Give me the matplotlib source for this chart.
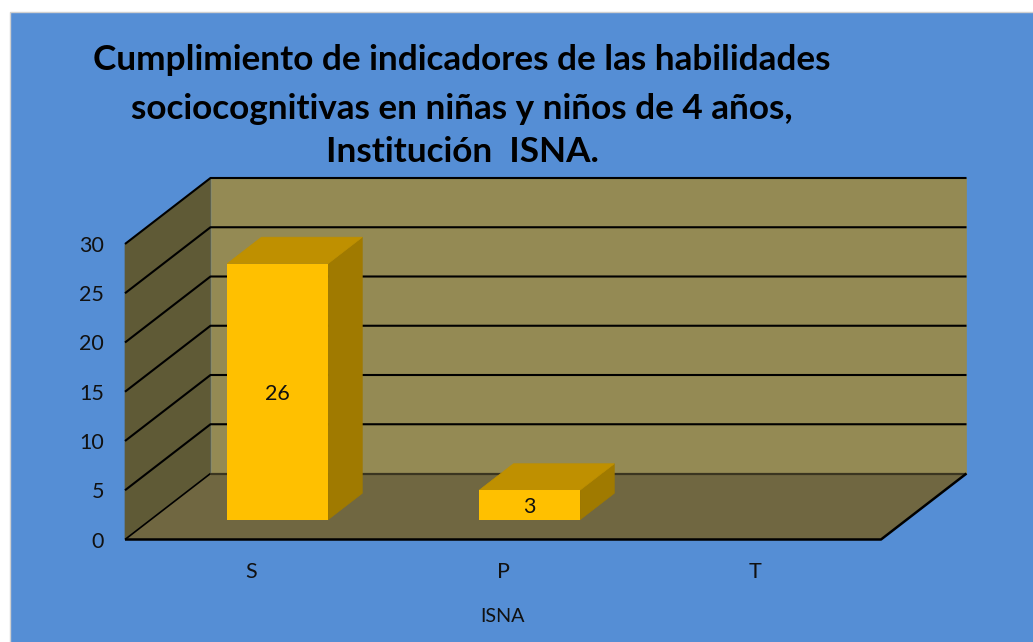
import matplotlib
matplotlib.use("Agg")
import matplotlib.pyplot as plt
import numpy as np
from matplotlib.patches import Polygon, Rectangle
from matplotlib.transforms import Affine2D, IdentityTransform

categories = ["S", "P", "T"]
values = [26, 3, 0]
value_labels = ["26", "3", ""]
y_ticks = [0, 5, 10, 15, 20, 25, 30]
title_lines = ["Cumplimiento de indicadores de las habilidades",
               "sociocognitivas en niñas y niños de 4 años,",
               "Institución  ISNA."]
x_title = "ISNA"

W, H = 1033, 642
plt.rcParams["font.family"] = ["Lato", "DejaVu Sans"]
fig = plt.figure(figsize=(W / 100, H / 100), dpi=100, facecolor="white")

def fx(p): return p / W
def fy(p): return 1 - p / H

fig.add_artist(Rectangle((fx(10), -0.01), 1 - fx(10) + 0.01, fy(12.5) + 0.01, transform=fig.transFigure,
                         facecolor="#558ED5", edgecolor="#D0D0D0", linewidth=1, zorder=-1))

left, right, bottom, top = 125, 881, 539.5, 244
ax = fig.add_axes([fx(left), fy(bottom), (right - left) / W, (bottom - top) / H])
ax.set_xlim(-0.5, 2.5)
ax.set_ylim(0, 30)
ax.patch.set_visible(False)
for s in ax.spines.values():
    s.set_visible(False)

DEPTH = np.array([85.5, 66.0])
BAR_START = 0.30
BAR_DEPTH = 0.40
BAR_WIDTH = 0.40
BAR_SHIFT = 0.004

def P(x, v, d=0.0):
    return ax.transData.transform((x, v)) + d * DEPTH

def face(pts, color, z):
    ax.add_patch(Polygon(pts, closed=True, transform=IdentityTransform(), facecolor=color,
                         edgecolor=color, linewidth=0.5, zorder=z, clip_on=False))

def seg(pts, color="black", lw=1.5, z=2):
    a = np.array(pts)
    ax.plot(a[:, 0], a[:, 1], transform=IdentityTransform(), color=color, lw=lw, zorder=z,
            clip_on=False, solid_capstyle="butt")

x0, x1 = ax.get_xlim()
ymax = y_ticks[-1]
face([P(x0, 0, 1), P(x1, 0, 1), P(x1, ymax, 1), P(x0, ymax, 1)], "#948A54", 1)
face([P(x0, 0), P(x0, 0, 1), P(x0, ymax, 1), P(x0, ymax)], "#5F5A36", 1)
face([P(x0, 0), P(x1, 0), P(x1, 0, 1), P(x0, 0, 1)], "#706741", 1)

for t in y_ticks:
    if t == 0:
        seg([P(x0, t, 1), P(x1, t, 1)], "#3A3520", 1.6)
        seg([P(x0, t), P(x0, t, 1)], "black", 1.2)
    else:
        seg([P(x0, t), P(x0, t, 1), P(x1, t, 1)], "black", 1.5)
seg([P(x0, 0), P(x1, 0), P(x1, 0, 1)], "black", 1.8)

off = Affine2D().translate(*(BAR_START * DEPTH))
for i, v in enumerate(values):
    if v <= 0:
        continue
    cx = i + BAR_SHIFT
    hw = BAR_WIDTH / 2
    a, b = BAR_START, BAR_START + BAR_DEPTH
    face([P(cx + hw, 0, a), P(cx + hw, 0, b), P(cx + hw, v, b), P(cx + hw, v, a)], "#A07A00", 3)
    face([P(cx - hw, v, a), P(cx + hw, v, a), P(cx + hw, v, b), P(cx - hw, v, b)], "#BF9000", 3)
    ax.bar(cx, v, width=BAR_WIDTH, color="#FFC000", zorder=4, clip_on=False,
           transform=ax.transData + off)
    c = P(cx, v / 2, a)
    ax.text(c[0], c[1] - 2, value_labels[i], transform=IdentityTransform(), ha="center", va="center",
            fontsize=15.5, color="#111111", zorder=5)

ax.set_xticks(range(len(categories)), categories)
ax.set_yticks(y_ticks)
ax.tick_params(axis="both", length=0, labelsize=15.5, colors="#111111")
ax.tick_params(axis="y", pad=15)
ax.tick_params(axis="x", pad=16)
ax.set_xlim(x0, x1)
ax.set_ylim(0, ymax)

fig.text(fx(502), fy(617), x_title, ha="center", va="center", fontsize=14.2, color="#111111")
for line, yp in zip(title_lines, [60, 109, 152]):
    fig.text(fx(462), fy(yp), line, ha="center", va="center", fontsize=25.3, fontweight="bold", color="black")

fig.savefig("out.png", dpi=100)
